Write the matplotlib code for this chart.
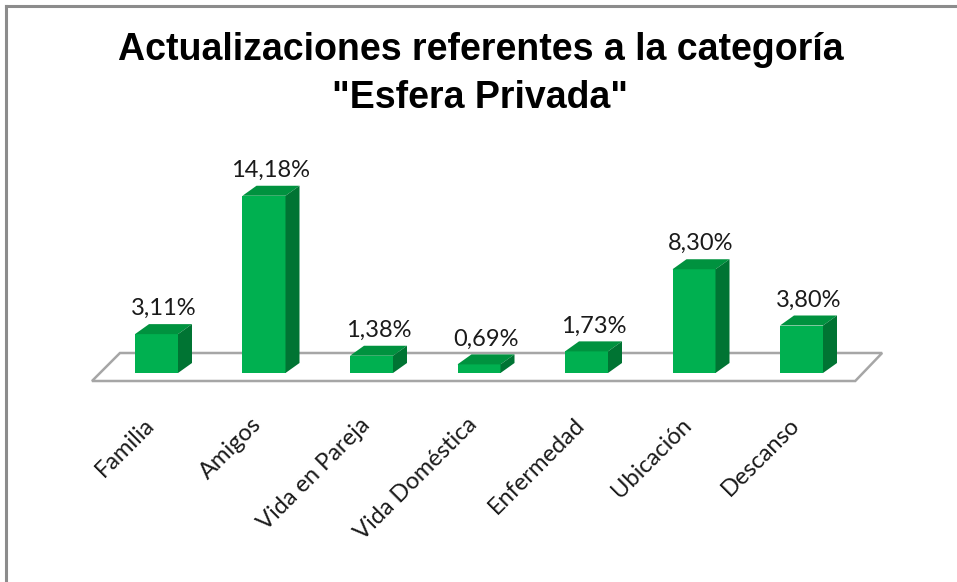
import matplotlib.pyplot as plt
from matplotlib.patches import Polygon

# datos
categorias = ['Familia', 'Amigos', 'Vida en Pareja', 'Vida Doméstica',
              'Enfermedad', 'Ubicación', 'Descanso']
valores = [3.11, 14.18, 1.38, 0.69, 1.73, 8.30, 3.80]
etiquetas = ['3,11%', '14,18%', '1,38%', '0,69%', '1,73%', '8,30%', '3,80%']

titulo = 'Actualizaciones referentes a la categoría\n"Esfera Privada"'

# colores estilo Excel
verde = '#00B050'
verde_top = '#00923F'
verde_lado = '#007433'

W, H = 957, 582
fig = plt.figure(figsize=(W / 100, H / 100), dpi=100)
ax = fig.add_axes([0, 0, 1, 1])

# escala en pixeles: centro de la primera barra, paso entre barras, base y px por %
x0_px, paso_px, base_px, px_por = 156.5, 107.5, 373, 12.5
ax.set_xlim((0 - x0_px) / paso_px, (W - x0_px) / paso_px)
ax.set_ylim((base_px - H) / px_por, base_px / px_por)
ax.axis('off')

ancho = 0.40
dx = 14 / paso_px
dy = 10 / px_por

# piso
piso = Polygon([(-0.60, -0.64), (6.50, -0.64), (6.75, 1.6), (-0.34, 1.6)],
               closed=True, facecolor='white', edgecolor='#A6A6A6', lw=1.8, zorder=1)
ax.add_patch(piso)

xs = list(range(len(categorias)))
ax.bar(xs, valores, width=ancho, color=verde, zorder=3, lw=0)

fuente = ['Lato', 'DejaVu Sans']
for x, v, et in zip(xs, valores, etiquetas):
    l = x - ancho / 2
    r = x + ancho / 2
    top = Polygon([(l, v), (r, v), (r + dx, v + dy), (l + dx, v + dy)],
                  closed=True, facecolor=verde_top, lw=0, zorder=3)
    lado = Polygon([(r, 0), (r + dx, dy), (r + dx, v + dy), (r, v)],
                   closed=True, facecolor=verde_lado, lw=0, zorder=3)
    ax.add_patch(top)
    ax.add_patch(lado)
    ax.text(x + dx / 2, v + dy + 0.72, et, ha='center', va='baseline',
            fontsize=17, family=fuente, color='#1a1a1a', zorder=4)

for x, c in zip(xs, categorias):
    ax.text(x - 0.12, (base_px - 414) / px_por, c, rotation=45,
            rotation_mode='anchor', ha='right', va='top',
            fontsize=17, family=fuente, color='#1a1a1a')

fig.text(0.502, 1 - 108 / H, titulo, ha='center', va='baseline',
         fontsize=27, fontweight='bold', family=['Liberation Sans'],
         linespacing=1.43)

# borde del grafico (solo arriba e izquierda visibles)
fig.add_artist(plt.Line2D([6 / W, 6 / W], [0, 1 - 6 / H], transform=fig.transFigure,
                          color='#8C8C8C', lw=2.2))
fig.add_artist(plt.Line2D([6 / W, 1], [1 - 6 / H, 1 - 6 / H], transform=fig.transFigure,
                          color='#8C8C8C', lw=2.2))

fig.savefig('out.png', dpi=100, facecolor='white')
